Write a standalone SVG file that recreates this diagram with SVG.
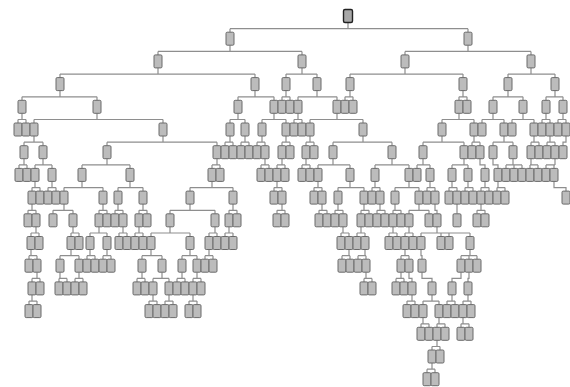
<svg xmlns="http://www.w3.org/2000/svg" xmlns:xlink="http://www.w3.org/1999/xlink" width="570" height="387" viewBox="0 0 570 387">
<style>
.e{fill:none;stroke:#8e8e8e;stroke-width:1.2}
#b{fill:#bcbcbc;stroke:#6a6a6a;stroke-width:1}
#root rect{fill:#a8a8a8;stroke:#222;stroke-width:1.4}
</style>
<defs><rect id="b" x="-4" y="-6.5" width="8" height="13" rx="1.2"/></defs>
<rect width="570" height="387" fill="#fff"/>
<g id="connectors">
<path class="e" d="M348,22.5v6.2M230,28.7H468M230,28.7v3.5M468,28.7v3.5"/>
<path class="e" d="M230,45.2v6.2M158,51.4H302M158,51.4v3.5M302,51.4v3.5"/>
<path class="e" d="M468,45.2v6.2M405,51.4H531M405,51.4v3.5M531,51.4v3.5"/>
<path class="e" d="M158,67.9v6.2M60,74.1H255M60,74.1v3.5M255,74.1v3.5"/>
<path class="e" d="M302,67.9v6.2M286,74.1H317M286,74.1v3.5M317,74.1v3.5"/>
<path class="e" d="M405,67.9v6.2M350,74.1H463M350,74.1v3.5M463,74.1v3.5"/>
<path class="e" d="M531,67.9v6.2M508,74.1H555M508,74.1v3.5M555,74.1v3.5"/>
<path class="e" d="M60,90.6v6.2M22,96.8H97M22,96.8v3.5M97,96.8v3.5"/>
<path class="e" d="M255,90.6v6.2M238,96.8H274M238,96.8v3.5M274,96.8v3.5"/>
<path class="e" d="M286,90.6v6.2M282,96.8H290M282,96.8v3.5M290,96.8v3.5"/>
<path class="e" d="M317,90.6v6.2M298,96.8H337M298,96.8v3.5M337,96.8v3.5"/>
<path class="e" d="M350,90.6v6.2M345,96.8H353M345,96.8v3.5M353,96.8v3.5"/>
<path class="e" d="M463,90.6v6.2M459,96.8H467M459,96.8v3.5M467,96.8v3.5"/>
<path class="e" d="M508,90.6v6.2M493,96.8H523M493,96.8v3.5M523,96.8v3.5"/>
<path class="e" d="M555,90.6v6.2M546,96.8H563M546,96.8v3.5M563,96.8v3.5"/>
<path class="e" d="M22,113.3v6.2M18,119.5H26M18,119.5v3.5M26,119.5v3.5"/>
<path class="e" d="M97,113.3v6.2M34,119.5H163M34,119.5v3.5M163,119.5v3.5"/>
<path class="e" d="M238,113.3v6.2M230,119.5H245M230,119.5v3.5M245,119.5v3.5"/>
<path class="e" d="M274,113.3v6.2M262,119.5H286M262,119.5v3.5M286,119.5v3.5"/>
<path class="e" d="M298,113.3v6.2M294,119.5H302M294,119.5v3.5M302,119.5v3.5"/>
<path class="e" d="M337,113.3v6.2M310,119.5H363M310,119.5v3.5M363,119.5v3.5"/>
<path class="e" d="M459,113.3v6.2M442,119.5H474M442,119.5v3.5M474,119.5v3.5"/>
<path class="e" d="M493,113.3v6.2M482,119.5H504M482,119.5v3.5M504,119.5v3.5"/>
<path class="e" d="M523,113.3v6.2M512,119.5H534M512,119.5v3.5M534,119.5v3.5"/>
<path class="e" d="M546,113.3v6.2M542,119.5H550M542,119.5v3.5M550,119.5v3.5"/>
<path class="e" d="M563,113.3v6.2M558,119.5H566M558,119.5v3.5M566,119.5v3.5"/>
<path class="e" d="M34,136v6.2M24,142.2H43M24,142.2v3.5M43,142.2v3.5"/>
<path class="e" d="M163,136v6.2M107,142.2H217M107,142.2v3.5M217,142.2v3.5"/>
<path class="e" d="M230,136v6.2M225,142.2H233M225,142.2v3.5M233,142.2v3.5"/>
<path class="e" d="M245,136v6.2M241,142.2H249M241,142.2v3.5M249,142.2v3.5"/>
<path class="e" d="M262,136v6.2M257,142.2H265M257,142.2v3.5M265,142.2v3.5"/>
<path class="e" d="M286,136v6.2M282,142.2H290M282,142.2v3.5M290,142.2v3.5"/>
<path class="e" d="M310,136v6.2M306,142.2H314M306,142.2v3.5M314,142.2v3.5"/>
<path class="e" d="M363,136v6.2M333,142.2H392M333,142.2v3.5M392,142.2v3.5"/>
<path class="e" d="M442,136v6.2M423,142.2H464M423,142.2v3.5M464,142.2v3.5"/>
<path class="e" d="M474,136v6.2M472,142.2H480M472,142.2v3.5M480,142.2v3.5"/>
<path class="e" d="M504,136v6.2M493,142.2H513M493,142.2v3.5M513,142.2v3.5"/>
<path class="e" d="M534,136v6.2M531,142.2H539M531,142.2v3.5M539,142.2v3.5"/>
<path class="e" d="M550,136v6.2M547,142.2H555M547,142.2v3.5M555,142.2v3.5"/>
<path class="e" d="M566,136v6.2H563v3.5"/>
<path class="e" d="M24,158.7v6.2M19,164.9H27M19,164.9v3.5M27,164.9v3.5"/>
<path class="e" d="M43,158.7v6.2M35,164.9H52M35,164.9v3.5M52,164.9v3.5"/>
<path class="e" d="M107,158.7v6.2M82,164.9H130M82,164.9v3.5M130,164.9v3.5"/>
<path class="e" d="M217,158.7v6.2M212,164.9H220M212,164.9v3.5M220,164.9v3.5"/>
<path class="e" d="M265,158.7v6.2M261,164.9H269M261,164.9v3.5M269,164.9v3.5"/>
<path class="e" d="M282,158.7v6.2M277,164.9H285M277,164.9v3.5M285,164.9v3.5"/>
<path class="e" d="M306,158.7v6.2M302,164.9H310M302,164.9v3.5M310,164.9v3.5"/>
<path class="e" d="M333,158.7v6.2M318,164.9H350M318,164.9v3.5M350,164.9v3.5"/>
<path class="e" d="M392,158.7v6.2M375,164.9H409M375,164.9v3.5M409,164.9v3.5"/>
<path class="e" d="M423,158.7v6.2M417,164.9H430M417,164.9v3.5M430,164.9v3.5"/>
<path class="e" d="M464,158.7v6.2M452,164.9H468M452,164.9v3.5M468,164.9v3.5"/>
<path class="e" d="M480,158.7v6.2H485v3.5"/>
<path class="e" d="M493,158.7v6.2H498v3.5"/>
<path class="e" d="M513,158.7v6.2M506,164.9H522M506,164.9v3.5M514,164.9v3.5M522,164.9v3.5"/>
<path class="e" d="M531,158.7v6.2M530,164.9H538M530,164.9v3.5M538,164.9v3.5"/>
<path class="e" d="M555,158.7v6.2M546,164.9H555M546,164.9v3.5M554,164.9v3.5"/>
<path class="e" d="M35,181.4v6.2M32,187.6H40M32,187.6v3.5M40,187.6v3.5"/>
<path class="e" d="M52,181.4v6.2M48,187.6H56M48,187.6v3.5M56,187.6v3.5"/>
<path class="e" d="M82,181.4v6.2M64,187.6H103M64,187.6v3.5M103,187.6v3.5"/>
<path class="e" d="M130,181.4v6.2M118,187.6H143M118,187.6v3.5M143,187.6v3.5"/>
<path class="e" d="M212,181.4v6.2M190,187.6H233M190,187.6v3.5M233,187.6v3.5"/>
<path class="e" d="M277,181.4v6.2M274,187.6H282M274,187.6v3.5M282,187.6v3.5"/>
<path class="e" d="M318,181.4v6.2M314,187.6H322M314,187.6v3.5M322,187.6v3.5"/>
<path class="e" d="M350,181.4v6.2M338,187.6H364M338,187.6v3.5M364,187.6v3.5"/>
<path class="e" d="M375,181.4v6.2M372,187.6H380M372,187.6v3.5M380,187.6v3.5"/>
<path class="e" d="M409,181.4v6.2M395,187.6H419M395,187.6v3.5M419,187.6v3.5"/>
<path class="e" d="M430,181.4v6.2M427,187.6H435M427,187.6v3.5M435,187.6v3.5"/>
<path class="e" d="M452,181.4v6.2M449,187.6H457M449,187.6v3.5M457,187.6v3.5"/>
<path class="e" d="M468,181.4v6.2M465,187.6H473M465,187.6v3.5M473,187.6v3.5"/>
<path class="e" d="M485,181.4v6.2M481,187.6H489M481,187.6v3.5M489,187.6v3.5"/>
<path class="e" d="M498,181.4v6.2M497,187.6H505M497,187.6v3.5M505,187.6v3.5"/>
<path class="e" d="M554,181.4v6.2H566v3.5"/>
<path class="e" d="M32,204.1v6.2M28,210.3H36M28,210.3v3.5M36,210.3v3.5"/>
<path class="e" d="M64,204.1v6.2M53,210.3H73M53,210.3v3.5M73,210.3v3.5"/>
<path class="e" d="M103,204.1v6.2M99,210.3H107M99,210.3v3.5M107,210.3v3.5"/>
<path class="e" d="M118,204.1v6.2M115,210.3H123M115,210.3v3.5M123,210.3v3.5"/>
<path class="e" d="M143,204.1v6.2M139,210.3H147M139,210.3v3.5M147,210.3v3.5"/>
<path class="e" d="M190,204.1v6.2M170,210.3H215M170,210.3v3.5M215,210.3v3.5"/>
<path class="e" d="M233,204.1v6.2M229,210.3H237M229,210.3v3.5M237,210.3v3.5"/>
<path class="e" d="M282,204.1v6.2M277,210.3H285M277,210.3v3.5M285,210.3v3.5"/>
<path class="e" d="M322,204.1v6.2M319,210.3H327M319,210.3v3.5M327,210.3v3.5"/>
<path class="e" d="M338,204.1v6.2M335,210.3H343M335,210.3v3.5M343,210.3v3.5"/>
<path class="e" d="M364,204.1v6.2M361,210.3H369M361,210.3v3.5M369,210.3v3.5"/>
<path class="e" d="M380,204.1v6.2M377,210.3H385M377,210.3v3.5M385,210.3v3.5"/>
<path class="e" d="M395,204.1v6.2M393,210.3H401M393,210.3v3.5M401,210.3v3.5"/>
<path class="e" d="M419,204.1v6.2M409,210.3H429M409,210.3v3.5M429,210.3v3.5"/>
<path class="e" d="M435,204.1v6.2H437v3.5"/>
<path class="e" d="M457,204.1v9.7"/>
<path class="e" d="M481,204.1v6.2M477,210.3H485M477,210.3v3.5M485,210.3v3.5"/>
<path class="e" d="M36,226.8v6.2M31,233H39M31,233v3.5M39,233v3.5"/>
<path class="e" d="M73,226.8v6.2M71,233H79M71,233v3.5M79,233v3.5"/>
<path class="e" d="M99,226.8v6.2M90,233H107M90,233v3.5M107,233v3.5"/>
<path class="e" d="M123,226.8v6.2M119,233H127M119,233v3.5M127,233v3.5"/>
<path class="e" d="M139,226.8v6.2M135,233H143M135,233v3.5M143,233v3.5"/>
<path class="e" d="M170,226.8v6.2M151,233H190M151,233v3.5M190,233v3.5"/>
<path class="e" d="M215,226.8v6.2M209,233H217M209,233v3.5M217,233v3.5"/>
<path class="e" d="M229,226.8v6.2M225,233H233M225,233v3.5M233,233v3.5"/>
<path class="e" d="M343,226.8v6.2M341,233H349M341,233v3.5M349,233v3.5"/>
<path class="e" d="M361,226.8v6.2M357,233H365M357,233v3.5M365,233v3.5"/>
<path class="e" d="M393,226.8v6.2M389,233H397M389,233v3.5M397,233v3.5"/>
<path class="e" d="M409,226.8v6.2M405,233H413M405,233v3.5M413,233v3.5"/>
<path class="e" d="M437,226.8v6.2M421,233H470M421,233v3.5M441,233v3.5M449,233v3.5M470,233v3.5"/>
<path class="e" d="M31,249.5v6.2M29,255.7H37M29,255.7v3.5M37,255.7v3.5"/>
<path class="e" d="M71,249.5v6.2M60,255.7H79M60,255.7v3.5M79,255.7v3.5"/>
<path class="e" d="M90,249.5v6.2M87,255.7H95M87,255.7v3.5M95,255.7v3.5"/>
<path class="e" d="M107,249.5v6.2M103,255.7H111M103,255.7v3.5M111,255.7v3.5"/>
<path class="e" d="M151,249.5v6.2M142,255.7H162M142,255.7v3.5M162,255.7v3.5"/>
<path class="e" d="M190,249.5v6.2M182,255.7H197M182,255.7v3.5M197,255.7v3.5"/>
<path class="e" d="M209,249.5v6.2M205,255.7H213M205,255.7v3.5M213,255.7v3.5"/>
<path class="e" d="M349,249.5v6.2M342,255.7H350M342,255.7v3.5M350,255.7v3.5"/>
<path class="e" d="M365,249.5v6.2M358,255.7H366M358,255.7v3.5M366,255.7v3.5"/>
<path class="e" d="M405,249.5v6.2M401,255.7H409M401,255.7v3.5M409,255.7v3.5"/>
<path class="e" d="M421,249.5v6.2H422v3.5"/>
<path class="e" d="M470,249.5v6.2M461,255.7H477M461,255.7v3.5M469,255.7v3.5M477,255.7v3.5"/>
<path class="e" d="M37,272.2v6.2M32,278.4H40M32,278.4v3.5M40,278.4v3.5"/>
<path class="e" d="M60,272.2v6.2M59,278.4H67M59,278.4v3.5M67,278.4v3.5"/>
<path class="e" d="M79,272.2v6.2M75,278.4H83M75,278.4v3.5M83,278.4v3.5"/>
<path class="e" d="M142,272.2v6.2M137,278.4H145M137,278.4v3.5M145,278.4v3.5"/>
<path class="e" d="M162,272.2v6.2M153,278.4H169M153,278.4v3.5M169,278.4v3.5"/>
<path class="e" d="M182,272.2v6.2M177,278.4H185M177,278.4v3.5M185,278.4v3.5"/>
<path class="e" d="M197,272.2v6.2M193,278.4H201M193,278.4v3.5M201,278.4v3.5"/>
<path class="e" d="M366,272.2v6.2M364,278.4H372M364,278.4v3.5M372,278.4v3.5"/>
<path class="e" d="M401,272.2v6.2M396,278.4H404M396,278.4v3.5M404,278.4v3.5"/>
<path class="e" d="M409,272.2v6.2H412v3.5"/>
<path class="e" d="M422,272.2v6.2H432v3.5"/>
<path class="e" d="M461,272.2v6.2H452v3.5"/>
<path class="e" d="M469,272.2v6.2H468v3.5"/>
<path class="e" d="M32,294.9v6.2M29,301.1H37M29,301.1v3.5M37,301.1v3.5"/>
<path class="e" d="M153,294.9v6.2M149,301.1H157M149,301.1v3.5M157,301.1v3.5"/>
<path class="e" d="M169,294.9v6.2M165,301.1H173M165,301.1v3.5M173,301.1v3.5"/>
<path class="e" d="M193,294.9v6.2M189,301.1H197M189,301.1v3.5M197,301.1v3.5"/>
<path class="e" d="M412,294.9v6.2M407,301.1H415M407,301.1v3.5M415,301.1v3.5"/>
<path class="e" d="M432,294.9v6.2M423,301.1H439M423,301.1v3.5M439,301.1v3.5"/>
<path class="e" d="M452,294.9v6.2M447,301.1H455M447,301.1v3.5M455,301.1v3.5"/>
<path class="e" d="M468,294.9v6.2M463,301.1H471M463,301.1v3.5M471,301.1v3.5"/>
<path class="e" d="M423,317.6v6.2M421,323.8H429M421,323.8v3.5M429,323.8v3.5"/>
<path class="e" d="M439,317.6v6.2M437,323.8H445M437,323.8v3.5M445,323.8v3.5"/>
<path class="e" d="M463,317.6v6.2M461,323.8H469M461,323.8v3.5M469,323.8v3.5"/>
<path class="e" d="M437,340.3v6.2M432,346.5H440M432,346.5v3.5M440,346.5v3.5"/>
<path class="e" d="M432,363v6.2M427,369.2H435M427,369.2v3.5M435,369.2v3.5"/>
</g>
<g id="nodes">
<g id="root"><rect x="343.5" y="9.5" width="9" height="13" rx="1.5"/></g>
<g transform="translate(0,38.7)">
<g id="n1_230"><use href="#b" x="230"/></g><g id="n1_468"><use href="#b" x="468"/></g>
</g>
<g transform="translate(0,61.4)">
<g id="n2_158"><use href="#b" x="158"/></g><g id="n2_302"><use href="#b" x="302"/></g><g id="n2_405"><use href="#b" x="405"/></g><g id="n2_531"><use href="#b" x="531"/></g>
</g>
<g transform="translate(0,84.1)">
<g id="n3_60"><use href="#b" x="60"/></g><g id="n3_255"><use href="#b" x="255"/></g><g id="n3_286"><use href="#b" x="286"/></g><g id="n3_317"><use href="#b" x="317"/></g><g id="n3_350"><use href="#b" x="350"/></g><g id="n3_463"><use href="#b" x="463"/></g><g id="n3_508"><use href="#b" x="508"/></g><g id="n3_555"><use href="#b" x="555"/></g>
</g>
<g transform="translate(0,106.8)">
<g id="n4_22"><use href="#b" x="22"/></g><g id="n4_97"><use href="#b" x="97"/></g><g id="n4_238"><use href="#b" x="238"/></g><g id="n4_274"><use href="#b" x="274"/></g><g id="n4_282"><use href="#b" x="282"/></g><g id="n4_290"><use href="#b" x="290"/></g><g id="n4_298"><use href="#b" x="298"/></g><g id="n4_337"><use href="#b" x="337"/></g><g id="n4_345"><use href="#b" x="345"/></g><g id="n4_353"><use href="#b" x="353"/></g><g id="n4_459"><use href="#b" x="459"/></g><g id="n4_467"><use href="#b" x="467"/></g><g id="n4_493"><use href="#b" x="493"/></g><g id="n4_523"><use href="#b" x="523"/></g><g id="n4_546"><use href="#b" x="546"/></g><g id="n4_563"><use href="#b" x="563"/></g>
</g>
<g transform="translate(0,129.5)">
<g id="n5_18"><use href="#b" x="18"/></g><g id="n5_26"><use href="#b" x="26"/></g><g id="n5_34"><use href="#b" x="34"/></g><g id="n5_163"><use href="#b" x="163"/></g><g id="n5_230"><use href="#b" x="230"/></g><g id="n5_245"><use href="#b" x="245"/></g><g id="n5_262"><use href="#b" x="262"/></g><g id="n5_286"><use href="#b" x="286"/></g><g id="n5_294"><use href="#b" x="294"/></g><g id="n5_302"><use href="#b" x="302"/></g><g id="n5_310"><use href="#b" x="310"/></g><g id="n5_363"><use href="#b" x="363"/></g><g id="n5_442"><use href="#b" x="442"/></g><g id="n5_474"><use href="#b" x="474"/></g><g id="n5_482"><use href="#b" x="482"/></g><g id="n5_504"><use href="#b" x="504"/></g><g id="n5_512"><use href="#b" x="512"/></g><g id="n5_534"><use href="#b" x="534"/></g><g id="n5_542"><use href="#b" x="542"/></g><g id="n5_550"><use href="#b" x="550"/></g><g id="n5_558"><use href="#b" x="558"/></g><g id="n5_566"><use href="#b" x="566"/></g>
</g>
<g transform="translate(0,152.2)">
<g id="n6_24"><use href="#b" x="24"/></g><g id="n6_43"><use href="#b" x="43"/></g><g id="n6_107"><use href="#b" x="107"/></g><g id="n6_217"><use href="#b" x="217"/></g><g id="n6_225"><use href="#b" x="225"/></g><g id="n6_233"><use href="#b" x="233"/></g><g id="n6_241"><use href="#b" x="241"/></g><g id="n6_249"><use href="#b" x="249"/></g><g id="n6_257"><use href="#b" x="257"/></g><g id="n6_265"><use href="#b" x="265"/></g><g id="n6_282"><use href="#b" x="282"/></g><g id="n6_290"><use href="#b" x="290"/></g><g id="n6_306"><use href="#b" x="306"/></g><g id="n6_314"><use href="#b" x="314"/></g><g id="n6_333"><use href="#b" x="333"/></g><g id="n6_392"><use href="#b" x="392"/></g><g id="n6_423"><use href="#b" x="423"/></g><g id="n6_464"><use href="#b" x="464"/></g><g id="n6_472"><use href="#b" x="472"/></g><g id="n6_480"><use href="#b" x="480"/></g><g id="n6_493"><use href="#b" x="493"/></g><g id="n6_513"><use href="#b" x="513"/></g><g id="n6_531"><use href="#b" x="531"/></g><g id="n6_539"><use href="#b" x="539"/></g><g id="n6_547"><use href="#b" x="547"/></g><g id="n6_555"><use href="#b" x="555"/></g><g id="n6_563"><use href="#b" x="563"/></g>
</g>
<g transform="translate(0,174.9)">
<g id="n7_19"><use href="#b" x="19"/></g><g id="n7_27"><use href="#b" x="27"/></g><g id="n7_35"><use href="#b" x="35"/></g><g id="n7_52"><use href="#b" x="52"/></g><g id="n7_82"><use href="#b" x="82"/></g><g id="n7_130"><use href="#b" x="130"/></g><g id="n7_212"><use href="#b" x="212"/></g><g id="n7_220"><use href="#b" x="220"/></g><g id="n7_261"><use href="#b" x="261"/></g><g id="n7_269"><use href="#b" x="269"/></g><g id="n7_277"><use href="#b" x="277"/></g><g id="n7_285"><use href="#b" x="285"/></g><g id="n7_302"><use href="#b" x="302"/></g><g id="n7_310"><use href="#b" x="310"/></g><g id="n7_318"><use href="#b" x="318"/></g><g id="n7_350"><use href="#b" x="350"/></g><g id="n7_375"><use href="#b" x="375"/></g><g id="n7_409"><use href="#b" x="409"/></g><g id="n7_417"><use href="#b" x="417"/></g><g id="n7_430"><use href="#b" x="430"/></g><g id="n7_452"><use href="#b" x="452"/></g><g id="n7_468"><use href="#b" x="468"/></g><g id="n7_485"><use href="#b" x="485"/></g><g id="n7_498"><use href="#b" x="498"/></g><g id="n7_506"><use href="#b" x="506"/></g><g id="n7_514"><use href="#b" x="514"/></g><g id="n7_522"><use href="#b" x="522"/></g><g id="n7_530"><use href="#b" x="530"/></g><g id="n7_538"><use href="#b" x="538"/></g><g id="n7_546"><use href="#b" x="546"/></g><g id="n7_554"><use href="#b" x="554"/></g>
</g>
<g transform="translate(0,197.6)">
<g id="n8_32"><use href="#b" x="32"/></g><g id="n8_40"><use href="#b" x="40"/></g><g id="n8_48"><use href="#b" x="48"/></g><g id="n8_56"><use href="#b" x="56"/></g><g id="n8_64"><use href="#b" x="64"/></g><g id="n8_103"><use href="#b" x="103"/></g><g id="n8_118"><use href="#b" x="118"/></g><g id="n8_143"><use href="#b" x="143"/></g><g id="n8_190"><use href="#b" x="190"/></g><g id="n8_233"><use href="#b" x="233"/></g><g id="n8_274"><use href="#b" x="274"/></g><g id="n8_282"><use href="#b" x="282"/></g><g id="n8_314"><use href="#b" x="314"/></g><g id="n8_322"><use href="#b" x="322"/></g><g id="n8_338"><use href="#b" x="338"/></g><g id="n8_364"><use href="#b" x="364"/></g><g id="n8_372"><use href="#b" x="372"/></g><g id="n8_380"><use href="#b" x="380"/></g><g id="n8_395"><use href="#b" x="395"/></g><g id="n8_419"><use href="#b" x="419"/></g><g id="n8_427"><use href="#b" x="427"/></g><g id="n8_435"><use href="#b" x="435"/></g><g id="n8_449"><use href="#b" x="449"/></g><g id="n8_457"><use href="#b" x="457"/></g><g id="n8_465"><use href="#b" x="465"/></g><g id="n8_473"><use href="#b" x="473"/></g><g id="n8_481"><use href="#b" x="481"/></g><g id="n8_489"><use href="#b" x="489"/></g><g id="n8_497"><use href="#b" x="497"/></g><g id="n8_505"><use href="#b" x="505"/></g><g id="n8_566"><use href="#b" x="566"/></g>
</g>
<g transform="translate(0,220.3)">
<g id="n9_28"><use href="#b" x="28"/></g><g id="n9_36"><use href="#b" x="36"/></g><g id="n9_53"><use href="#b" x="53"/></g><g id="n9_73"><use href="#b" x="73"/></g><g id="n9_99"><use href="#b" x="99"/></g><g id="n9_107"><use href="#b" x="107"/></g><g id="n9_115"><use href="#b" x="115"/></g><g id="n9_123"><use href="#b" x="123"/></g><g id="n9_139"><use href="#b" x="139"/></g><g id="n9_147"><use href="#b" x="147"/></g><g id="n9_170"><use href="#b" x="170"/></g><g id="n9_215"><use href="#b" x="215"/></g><g id="n9_229"><use href="#b" x="229"/></g><g id="n9_237"><use href="#b" x="237"/></g><g id="n9_277"><use href="#b" x="277"/></g><g id="n9_285"><use href="#b" x="285"/></g><g id="n9_319"><use href="#b" x="319"/></g><g id="n9_327"><use href="#b" x="327"/></g><g id="n9_335"><use href="#b" x="335"/></g><g id="n9_343"><use href="#b" x="343"/></g><g id="n9_361"><use href="#b" x="361"/></g><g id="n9_369"><use href="#b" x="369"/></g><g id="n9_377"><use href="#b" x="377"/></g><g id="n9_385"><use href="#b" x="385"/></g><g id="n9_393"><use href="#b" x="393"/></g><g id="n9_401"><use href="#b" x="401"/></g><g id="n9_409"><use href="#b" x="409"/></g><g id="n9_429"><use href="#b" x="429"/></g><g id="n9_437"><use href="#b" x="437"/></g><g id="n9_457"><use href="#b" x="457"/></g><g id="n9_477"><use href="#b" x="477"/></g><g id="n9_485"><use href="#b" x="485"/></g>
</g>
<g transform="translate(0,243)">
<g id="n10_31"><use href="#b" x="31"/></g><g id="n10_39"><use href="#b" x="39"/></g><g id="n10_71"><use href="#b" x="71"/></g><g id="n10_79"><use href="#b" x="79"/></g><g id="n10_90"><use href="#b" x="90"/></g><g id="n10_107"><use href="#b" x="107"/></g><g id="n10_119"><use href="#b" x="119"/></g><g id="n10_127"><use href="#b" x="127"/></g><g id="n10_135"><use href="#b" x="135"/></g><g id="n10_143"><use href="#b" x="143"/></g><g id="n10_151"><use href="#b" x="151"/></g><g id="n10_190"><use href="#b" x="190"/></g><g id="n10_209"><use href="#b" x="209"/></g><g id="n10_217"><use href="#b" x="217"/></g><g id="n10_225"><use href="#b" x="225"/></g><g id="n10_233"><use href="#b" x="233"/></g><g id="n10_341"><use href="#b" x="341"/></g><g id="n10_349"><use href="#b" x="349"/></g><g id="n10_357"><use href="#b" x="357"/></g><g id="n10_365"><use href="#b" x="365"/></g><g id="n10_389"><use href="#b" x="389"/></g><g id="n10_397"><use href="#b" x="397"/></g><g id="n10_405"><use href="#b" x="405"/></g><g id="n10_413"><use href="#b" x="413"/></g><g id="n10_421"><use href="#b" x="421"/></g><g id="n10_441"><use href="#b" x="441"/></g><g id="n10_449"><use href="#b" x="449"/></g><g id="n10_470"><use href="#b" x="470"/></g>
</g>
<g transform="translate(0,265.7)">
<g id="n11_29"><use href="#b" x="29"/></g><g id="n11_37"><use href="#b" x="37"/></g><g id="n11_60"><use href="#b" x="60"/></g><g id="n11_79"><use href="#b" x="79"/></g><g id="n11_87"><use href="#b" x="87"/></g><g id="n11_95"><use href="#b" x="95"/></g><g id="n11_103"><use href="#b" x="103"/></g><g id="n11_111"><use href="#b" x="111"/></g><g id="n11_142"><use href="#b" x="142"/></g><g id="n11_162"><use href="#b" x="162"/></g><g id="n11_182"><use href="#b" x="182"/></g><g id="n11_197"><use href="#b" x="197"/></g><g id="n11_205"><use href="#b" x="205"/></g><g id="n11_213"><use href="#b" x="213"/></g><g id="n11_342"><use href="#b" x="342"/></g><g id="n11_350"><use href="#b" x="350"/></g><g id="n11_358"><use href="#b" x="358"/></g><g id="n11_366"><use href="#b" x="366"/></g><g id="n11_401"><use href="#b" x="401"/></g><g id="n11_409"><use href="#b" x="409"/></g><g id="n11_422"><use href="#b" x="422"/></g><g id="n11_461"><use href="#b" x="461"/></g><g id="n11_469"><use href="#b" x="469"/></g><g id="n11_477"><use href="#b" x="477"/></g>
</g>
<g transform="translate(0,288.4)">
<g id="n12_32"><use href="#b" x="32"/></g><g id="n12_40"><use href="#b" x="40"/></g><g id="n12_59"><use href="#b" x="59"/></g><g id="n12_67"><use href="#b" x="67"/></g><g id="n12_75"><use href="#b" x="75"/></g><g id="n12_83"><use href="#b" x="83"/></g><g id="n12_137"><use href="#b" x="137"/></g><g id="n12_145"><use href="#b" x="145"/></g><g id="n12_153"><use href="#b" x="153"/></g><g id="n12_169"><use href="#b" x="169"/></g><g id="n12_177"><use href="#b" x="177"/></g><g id="n12_185"><use href="#b" x="185"/></g><g id="n12_193"><use href="#b" x="193"/></g><g id="n12_201"><use href="#b" x="201"/></g><g id="n12_364"><use href="#b" x="364"/></g><g id="n12_372"><use href="#b" x="372"/></g><g id="n12_396"><use href="#b" x="396"/></g><g id="n12_404"><use href="#b" x="404"/></g><g id="n12_412"><use href="#b" x="412"/></g><g id="n12_432"><use href="#b" x="432"/></g><g id="n12_452"><use href="#b" x="452"/></g><g id="n12_468"><use href="#b" x="468"/></g>
</g>
<g transform="translate(0,311.1)">
<g id="n13_29"><use href="#b" x="29"/></g><g id="n13_37"><use href="#b" x="37"/></g><g id="n13_149"><use href="#b" x="149"/></g><g id="n13_157"><use href="#b" x="157"/></g><g id="n13_165"><use href="#b" x="165"/></g><g id="n13_173"><use href="#b" x="173"/></g><g id="n13_189"><use href="#b" x="189"/></g><g id="n13_197"><use href="#b" x="197"/></g><g id="n13_407"><use href="#b" x="407"/></g><g id="n13_415"><use href="#b" x="415"/></g><g id="n13_423"><use href="#b" x="423"/></g><g id="n13_439"><use href="#b" x="439"/></g><g id="n13_447"><use href="#b" x="447"/></g><g id="n13_455"><use href="#b" x="455"/></g><g id="n13_463"><use href="#b" x="463"/></g><g id="n13_471"><use href="#b" x="471"/></g>
</g>
<g transform="translate(0,333.8)">
<g id="n14_421"><use href="#b" x="421"/></g><g id="n14_429"><use href="#b" x="429"/></g><g id="n14_437"><use href="#b" x="437"/></g><g id="n14_445"><use href="#b" x="445"/></g><g id="n14_461"><use href="#b" x="461"/></g><g id="n14_469"><use href="#b" x="469"/></g>
</g>
<g transform="translate(0,356.5)">
<g id="n15_432"><use href="#b" x="432"/></g><g id="n15_440"><use href="#b" x="440"/></g>
</g>
<g transform="translate(0,379.2)">
<g id="n16_427"><use href="#b" x="427"/></g><g id="n16_435"><use href="#b" x="435"/></g>
</g>
</g>
</svg>
